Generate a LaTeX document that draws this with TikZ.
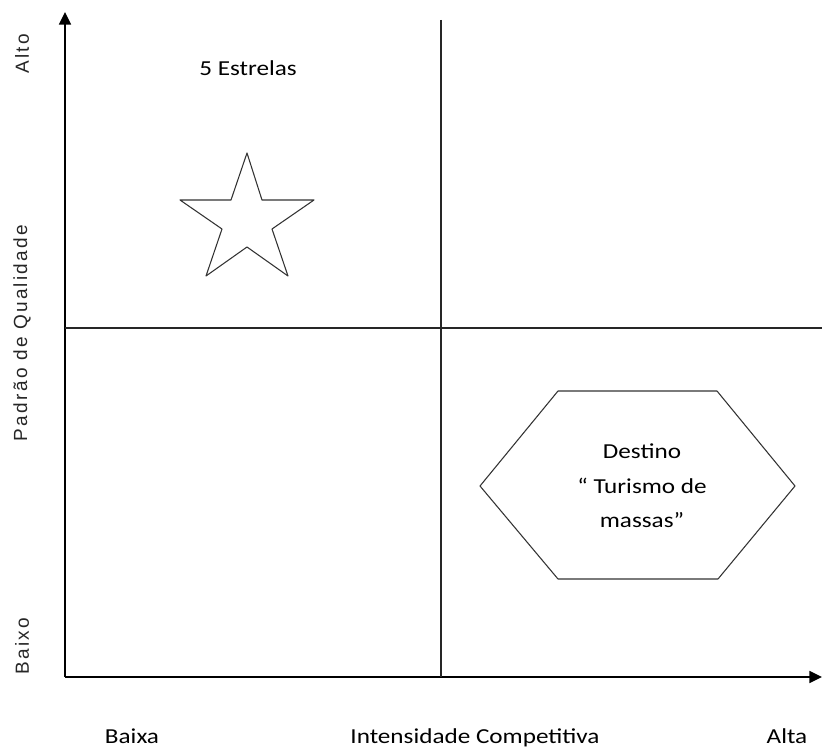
\documentclass[tikz,border=0pt]{standalone}
\usepackage{fontspec}
\setmainfont[FakeStretch=1.18]{Carlito}
\newfontfamily\axisfont[LetterSpace=12]{Liberation Sans}
\usetikzlibrary{arrows.meta,positioning}

\begin{document}
\begin{tikzpicture}[x=0.75pt,y=-0.75pt,>={Triangle[length=9.5pt,width=9pt]},
semithick, font=\fontsize{16}{26}\selectfont]

\tikzstyle{axis}=[->,line width=1.2pt,black]
\tikzstyle{divider}=[line width=0.9pt,black!85]
\tikzstyle{figure}=[line width=0.8pt,black!80,line join=round]
\tikzstyle{vlabel}=[rotate=90,font=\axisfont\fontsize{14.25}{17}\selectfont,text=black!85]
\tikzstyle{hlabel}=[anchor=base,inner sep=0pt]

\useasboundingbox (0,0) rectangle (822,749);

%axes
\coordinate (origin) at (65,677);
\coordinate (ytip) at (65,12);
\coordinate (xtip) at (822,677);
\draw[axis] (origin) -- (ytip);
\draw[axis] (origin) -- (xtip);

%quadrant lines
\coordinate (vtop) at (441,20);
\coordinate (vbot) at (441,677);
\coordinate (hleft) at (65,328);
\coordinate (hright) at (822,328);
\draw[divider] (vtop) -- (vbot);
\draw[divider] (hleft) -- (hright);

%vertical axis labels
\node[vlabel] (alto) at (22,54) {Alto};
\node[vlabel] (padrao) at (22,333) {Padrão de Qualidade};
\node[vlabel] (baixo) at (22,646) {Baixo};

%horizontal axis labels
\node[hlabel] (baixa) at (132,743) {Baixa};
\node[hlabel] (intens) at (475,743) {Intensidade Competitiva};
\node[hlabel] (altah) at (787,743) {Alta};

%five stars
\node[hlabel] (estrelas) at (248,76) {5 Estrelas};
\draw[figure] (247,153) -- (262,200) -- (314,200) -- (272,229) -- (288,276)
  -- (247,247) -- (206,276) -- (222,229) -- (180,200) -- (231,200) -- cycle;

%mass tourism
\draw[figure] (558,391) -- (717,391) -- (795,486) -- (718,579) -- (558,579)
  -- (480,486) -- cycle;
\node[align=center] (destino) at (642,486) {Destino\\\textquotedblleft\ Turismo de\\massas\textquotedblright};

\end{tikzpicture}
\end{document}
